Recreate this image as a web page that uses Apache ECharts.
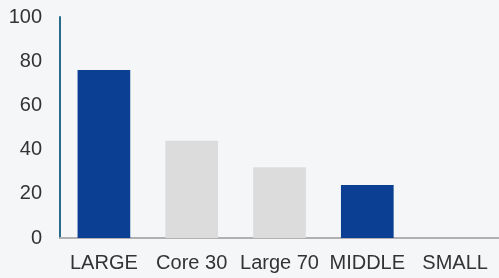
<!DOCTYPE html>
<html>
<head>
<meta charset="utf-8">
<script src="https://cdn.jsdelivr.net/npm/echarts@6/dist/echarts.min.js"></script>
<style>
  html, body { margin: 0; padding: 0; background: #f5f6f8; }
  #chart { width: 499px; height: 278px; }
</style>
</head>
<body>
<div id="chart"></div>
<script>
// category labels and values
var categories = ['LARGE', 'Core 30', 'Large 70', 'MIDDLE', 'SMALL']
var values = [76, 44, 32, 24, 0]
var highlight = [true, false, false, true, true]
var yTicks = [0, 20, 40, 60, 80, 100]

var chart = echarts.init(document.getElementById('chart'))
chart.setOption({
  backgroundColor: '#f5f6f8',
  animation: false,
  grid: {
    left: 60,
    right: -7,
    top: 17,
    bottom: 40
  },
  xAxis: {
    type: 'category',
    data: categories,
    axisTick: { show: false },
    axisLine: { lineStyle: { color: '#b0b0b0', width: 2 } },
    axisLabel: {
      color: '#333',
      fontSize: 20,
      fontFamily: 'Liberation Sans',
      margin: 15,
      interval: 0
    }
  },
  yAxis: {
    type: 'value',
    min: yTicks[0],
    max: yTicks[yTicks.length - 1],
    interval: 20,
    splitLine: { show: false },
    axisTick: { show: false },
    axisLine: { show: true, lineStyle: { color: '#2a6b8c', width: 2 } },
    axisLabel: {
      color: '#333',
      fontSize: 20,
      fontFamily: 'Liberation Sans',
      margin: 18
    }
  },
  series: [{
    type: 'bar',
    barWidth: '60%',
    data: values.map(function(v, i) {
      return {
        value: v,
        itemStyle: { color: highlight[i] ? '#0b3f93' : '#dcdcdc' }
      }
    })
  }]
})
</script>
</body>
</html>
